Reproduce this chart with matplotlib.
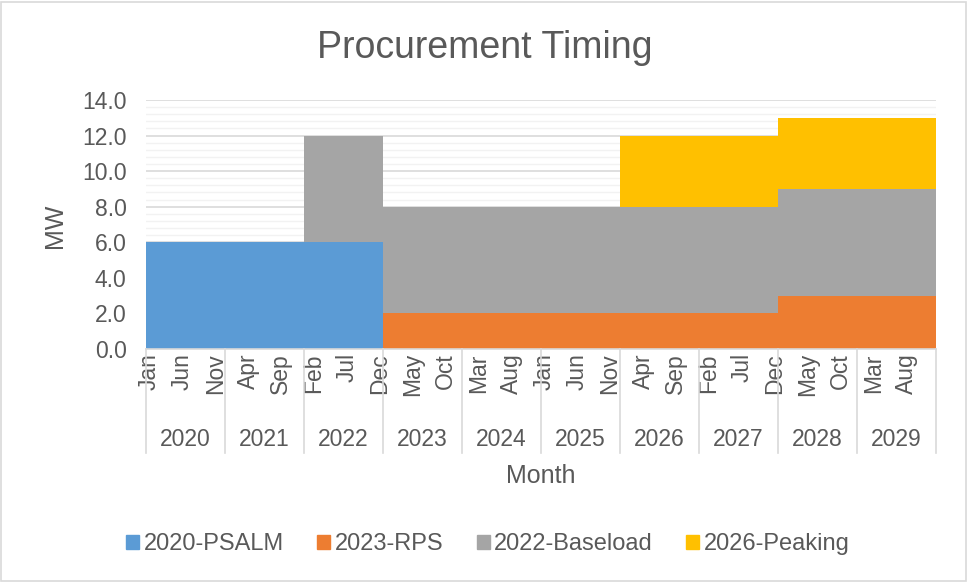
import matplotlib
matplotlib.use("Agg")
import matplotlib.pyplot as plt
import matplotlib.transforms as mtransforms
from matplotlib.patches import Patch, Rectangle

plt.rcParams['font.family'] = ['Liberation Sans', 'DejaVu Sans']

# monthly values, Jan 2020 .. Dec 2029 (MW)
years = [str(y) for y in range(2020, 2030)]
month_names = ['Jan', 'Feb', 'Mar', 'Apr', 'May', 'Jun',
               'Jul', 'Aug', 'Sep', 'Oct', 'Nov', 'Dec']

psalm = [6.0] * 36 + [0.0] * 84
rps = [0.0] * 36 + [2.0] * 60 + [3.0] * 24
baseload = [0.0] * 24 + [6.0] * 96
peaking = [0.0] * 72 + [4.0] * 48

series = [("2020-PSALM", psalm, "#5B9BD5"),
          ("2023-RPS", rps, "#ED7D31"),
          ("2022-Baseload", baseload, "#A5A5A5"),
          ("2026-Peaking", peaking, "#FFC000")]

text_color = "#595959"
line_color = "#D9D9D9"

W, H = 968, 583
fig = plt.figure(figsize=(W / 100, H / 100), dpi=100)
ax = fig.add_axes([146 / W, (H - 349) / H, 790 / W, 249 / H])

n = len(psalm)
x = list(range(n))
bottom = [0.0] * n
for name, vals, col in series:
    # skip empty months so no stray edges are drawn
    xs = [i for i in x if vals[i] > 0]
    ax.bar(xs, [vals[i] for i in xs], width=1.02,
           bottom=[bottom[i] for i in xs], color=col,
           linewidth=0, antialiased=False, label=name, zorder=2)
    bottom = [b + v for b, v in zip(bottom, vals)]

ax.set_xlim(-0.5, n - 0.5)
ax.set_ylim(0, 14)
ax.set_yticks([i * 2 for i in range(8)])
ax.set_yticklabels([f"{i * 2:.1f}" for i in range(8)])
ax.set_yticks([i * 0.4 for i in range(36)], minor=True)
ax.grid(axis='y', which='major', color=line_color, linewidth=1.2, zorder=0)
ax.grid(axis='y', which='minor', color="#F2F2F2", linewidth=1.0, zorder=0)
ax.set_axisbelow(True)

labels = [month_names[i % 12] for i in range(n)]
ax.set_xticks(x[::5])
ax.set_xticklabels(labels[::5], rotation=90, va='top', ha='center')
ax.tick_params(axis='both', which='both', length=0, labelsize=16.5,
               colors=text_color)
ax.tick_params(axis='y', pad=14)
ax.tick_params(axis='x', pad=3)

for s in ['top', 'right', 'left']:
    ax.spines[s].set_visible(False)
ax.spines['bottom'].set_color(line_color)
ax.spines['bottom'].set_linewidth(1.2)

trans = mtransforms.blended_transform_factory(ax.transData, ax.transAxes)
for k in range(len(years) + 1):
    xs = 12 * k - 0.5
    ax.plot([xs, xs], [0, -0.418], transform=trans, clip_on=False,
            color=line_color, linewidth=1.2)
for k, yr in enumerate(years):
    ax.text(12 * k + 5.5, -0.365, yr, transform=trans, ha='center',
            va='center', fontsize=16.5, color=text_color)

fig.text(485 / W, 1 - 48 / H, "Procurement Timing", ha='center', va='center',
         fontsize=27, color=text_color)
fig.text(541 / W, 1 - 476 / H, "Month", ha='center', va='center',
         fontsize=18, color=text_color)
fig.text(55 / W, 1 - 226 / H, "MW", ha='center', va='center', rotation=90,
         fontsize=18, color=text_color)

handles = [Patch(color=col, label=name) for name, vals, col in series]
fig.legend(handles=handles, loc='center', bbox_to_anchor=(488 / W, 1 - 544 / H),
           ncol=4, frameon=False, fontsize=17, handlelength=0.55,
           handleheight=0.55, handletextpad=0.2, columnspacing=1.4,
           labelcolor=text_color)

fig.patches.append(Rectangle((1 / W, 2 / H), (W - 3) / W, (H - 4) / H,
                             transform=fig.transFigure, fill=False,
                             edgecolor=line_color, linewidth=1.2))

fig.savefig("out.png", dpi=100)
